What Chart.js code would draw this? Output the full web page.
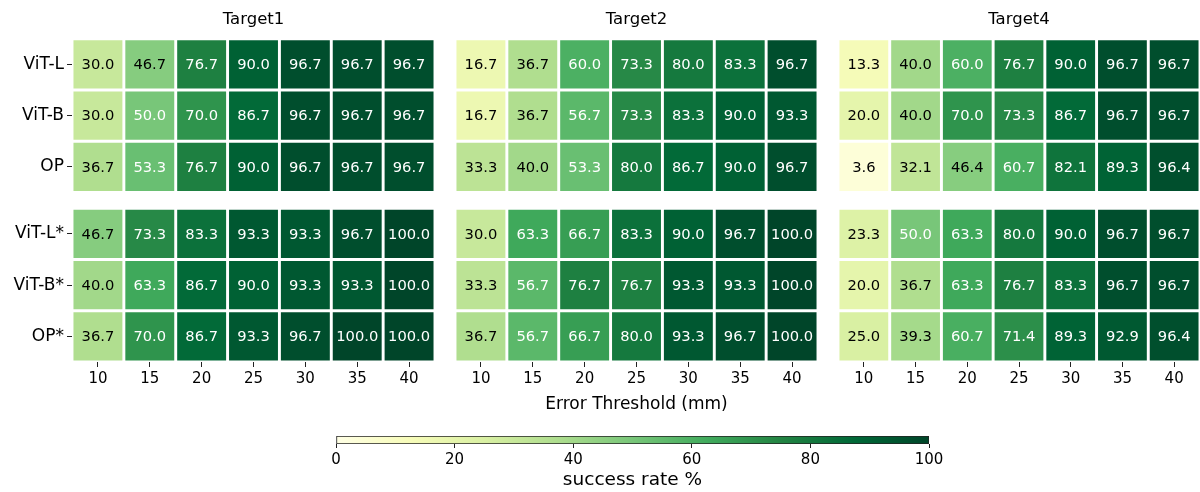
<!DOCTYPE html>
<html>
<head>
<meta charset="utf-8">
<title>Success rate by error threshold</title>
<script src="https://cdn.jsdelivr.net/npm/chart.js@4.4.0/dist/chart.umd.min.js"></script>
<style>
  html, body { margin: 0; padding: 0; background: #fff; }
  #wrap { position: relative; width: 1200px; height: 492px; overflow: hidden; }
  #wrap canvas { position: absolute; }
</style>
</head>
<body>
<div id="wrap">
  <canvas id="target1" width="440" height="418" style="left:0;top:0"></canvas>
  <canvas id="target2" width="390" height="418" style="left:440px;top:0"></canvas>
  <canvas id="target4" width="370" height="418" style="left:830px;top:0"></canvas>
  <canvas id="colorbar" width="670" height="67" style="left:300px;top:425px"></canvas>
</div>
<script>
// --- DATA ---
const thresholds = [10, 15, 20, 25, 30, 35, 40];
const rowLabels = ['ViT-L', 'ViT-B', 'OP', 'ViT-L*', 'ViT-B*', 'OP*'];

const target1 = [
    [30.0, 46.7, 76.7, 90.0, 96.7, 96.7, 96.7],
    [30.0, 50.0, 70.0, 86.7, 96.7, 96.7, 96.7],
    [36.7, 53.3, 76.7, 90.0, 96.7, 96.7, 96.7],
    [46.7, 73.3, 83.3, 93.3, 93.3, 96.7, 100.0],
    [40.0, 63.3, 86.7, 90.0, 93.3, 93.3, 100.0],
    [36.7, 70.0, 86.7, 93.3, 96.7, 100.0, 100.0]
];
const target2 = [
    [16.7, 36.7, 60.0, 73.3, 80.0, 83.3, 96.7],
    [16.7, 36.7, 56.7, 73.3, 83.3, 90.0, 93.3],
    [33.3, 40.0, 53.3, 80.0, 86.7, 90.0, 96.7],
    [30.0, 63.3, 66.7, 83.3, 90.0, 96.7, 100.0],
    [33.3, 56.7, 76.7, 76.7, 93.3, 93.3, 100.0],
    [36.7, 56.7, 66.7, 80.0, 93.3, 96.7, 100.0]
];
const target4 = [
    [13.3, 40.0, 60.0, 76.7, 90.0, 96.7, 96.7],
    [20.0, 40.0, 70.0, 73.3, 86.7, 96.7, 96.7],
    [3.6, 32.1, 46.4, 60.7, 82.1, 89.3, 96.4],
    [23.3, 50.0, 63.3, 80.0, 90.0, 96.7, 96.7],
    [20.0, 36.7, 63.3, 76.7, 83.3, 96.7, 96.7],
    [25.0, 39.3, 60.7, 71.4, 89.3, 92.9, 96.4]
];
const colorbarTicks = [0, 20, 40, 60, 80, 100];

// --- STYLE ---
Chart.defaults.font.family = '"DejaVu Sans", sans-serif';
Chart.defaults.color = '#000';

// matplotlib YlGn anchors
const YLGN = ['#ffffe5', '#f7fcb9', '#d9f0a3', '#addd8e', '#78c679', '#41ab5d', '#238443', '#006837', '#004529'];
const GROUP_GAP = 0.31; // blank strip between the two groups of rows
const rowPos = rowLabels.map((_, i) => i + (i >= 3 ? GROUP_GAP : 0));

function hexToRgb(h) {
    return [1, 3, 5].map(i => parseInt(h.substr(i, 2), 16));
}
const YLGN_RGB = YLGN.map(hexToRgb);

function ylgn(v) {
    const t = Math.min(Math.max(v / 100, 0), 1) * (YLGN_RGB.length - 1);
    const i = Math.min(Math.floor(t), YLGN_RGB.length - 2);
    const f = t - i;
    const a = YLGN_RGB[i], b = YLGN_RGB[i + 1];
    const c = a.map((x, k) => Math.round(x + (b[k] - x) * f));
    return `rgb(${c[0]}, ${c[1]}, ${c[2]})`;
}

// writes the value in the middle of every cell
const cellLabels = {
    id: 'cellLabels',
    afterDatasetsDraw(chart) {
        const ctx = chart.ctx;
        const meta = chart.getDatasetMeta(0);
        const data = chart.data.datasets[0].data;
        ctx.save();
        ctx.font = '14.7px "DejaVu Sans"';
        ctx.textAlign = 'center';
        ctx.textBaseline = 'middle';
        meta.data.forEach((bar, i) => {
            const v = data[i].v;
            const p = bar.getCenterPoint();
            ctx.fillStyle = v >= 48 ? '#ffffff' : '#000000';
            ctx.fillText(v.toFixed(1), p.x, p.y + 1);
        });
        ctx.restore();
    }
};

function buildPanel(canvasId, title, values, opts) {
    const cells = [];
    values.forEach((row, r) => {
        row.forEach((v, c) => cells.push({ x: [c - 0.5, c + 0.5], y: rowPos[r], v: v }));
    });

    return new Chart(document.getElementById(canvasId), {
        type: 'bar',
        data: {
            datasets: [{
                data: cells,
                backgroundColor: ctx => ylgn(ctx.raw.v),
                borderColor: '#ffffff',
                borderWidth: 1.8,
                borderSkipped: false,
                barPercentage: 1,
                categoryPercentage: 1
            }]
        },
        options: {
            indexAxis: 'y',
            responsive: false,
            animation: false,
            events: [],
            layout: { padding: { left: opts.padLeft, right: opts.padRight, top: 0, bottom: 0 } },
            plugins: {
                legend: { display: false },
                tooltip: { enabled: false },
                title: {
                    display: true,
                    fullSize: false, // centre over the cells, not the canvas
                    text: title,
                    color: '#000',
                    font: { size: 16.5, weight: 'normal' },
                    padding: { top: 10, bottom: 9 }
                }
            },
            scales: {
                x: {
                    type: 'linear',
                    offset: false,
                    min: -0.5,
                    max: thresholds.length - 0.5,
                    afterBuildTicks: s => { s.ticks = thresholds.map((_, i) => ({ value: i })); },
                    afterFit: s => { s.height = 56; },
                    ticks: {
                        autoSkip: false,
                        maxRotation: 0,
                        padding: 3,
                        font: { size: 15 },
                        callback: (v, i) => thresholds[i]
                    },
                    grid: { drawOnChartArea: false, offset: false, tickLength: 5, color: '#222' },
                    border: { display: false },
                    title: {
                        display: !!opts.xTitle,
                        text: opts.xTitle || '',
                        font: { size: 17 },
                        padding: { top: 4, bottom: 3 }
                    }
                },
                y: {
                    type: 'linear',
                    offset: false,
                    reverse: true,
                    display: opts.showY,
                    min: -0.5,
                    max: rowPos[rowPos.length - 1] + 0.5,
                    afterBuildTicks: s => { s.ticks = rowPos.map(p => ({ value: p })); },
                    afterFit: s => { if (opts.showY) s.width = 72; },
                    ticks: {
                        autoSkip: false,
                        padding: 3,
                        font: { size: 17 },
                        callback: (v, i) => rowLabels[i]
                    },
                    grid: { drawOnChartArea: false, offset: false, tickLength: 5, color: '#222' },
                    border: { display: false }
                }
            }
        },
        plugins: [cellLabels]
    });
}

function colorbarFill(ctx) {
    const area = ctx.chart.chartArea;
    if (!area) return YLGN[4];
    const g = ctx.chart.ctx.createLinearGradient(area.left, 0, area.right, 0);
    YLGN.forEach((c, i) => g.addColorStop(i / (YLGN.length - 1), c));
    return g;
}

function buildColorbar() {
    return new Chart(document.getElementById('colorbar'), {
        type: 'bar',
        data: {
            labels: ['success rate %'],
            datasets: [{
                data: [[colorbarTicks[0], colorbarTicks[colorbarTicks.length - 1]]],
                backgroundColor: colorbarFill,
                borderColor: '#222',
                borderWidth: 1,
                borderSkipped: false,
                barPercentage: 1,
                categoryPercentage: 1
            }]
        },
        options: {
            indexAxis: 'y',
            responsive: false,
            animation: false,
            events: [],
            layout: { padding: { left: 36, right: 41, top: 11, bottom: 0 } },
            plugins: {
                legend: { display: false },
                tooltip: { enabled: false }
            },
            scales: {
                x: {
                    type: 'linear',
                    min: colorbarTicks[0],
                    max: colorbarTicks[colorbarTicks.length - 1],
                    afterBuildTicks: s => { s.ticks = colorbarTicks.map(v => ({ value: v })); },
                    afterFit: s => { s.height = 48; },
                    ticks: { maxRotation: 0, padding: 3, font: { size: 15 } },
                    grid: { drawOnChartArea: false, tickLength: 4, color: '#222' },
                    border: { display: false },
                    title: {
                        display: true,
                        text: 'success rate %',
                        font: { size: 18.5 },
                        padding: { top: 0, bottom: 1 }
                    }
                },
                y: { type: 'category', display: false }
            }
        }
    });
}

// --- START ---
buildPanel('target1', 'Target1', target1, { showY: true, padLeft: 0, padRight: 5 });
buildPanel('target2', 'Target2', target2, { showY: false, padLeft: 15, padRight: 12, xTitle: 'Error Threshold (mm)' });
buildPanel('target4', 'Target4', target4, { showY: false, padLeft: 8, padRight: 0 });
buildColorbar();
</script>
</body>
</html>
